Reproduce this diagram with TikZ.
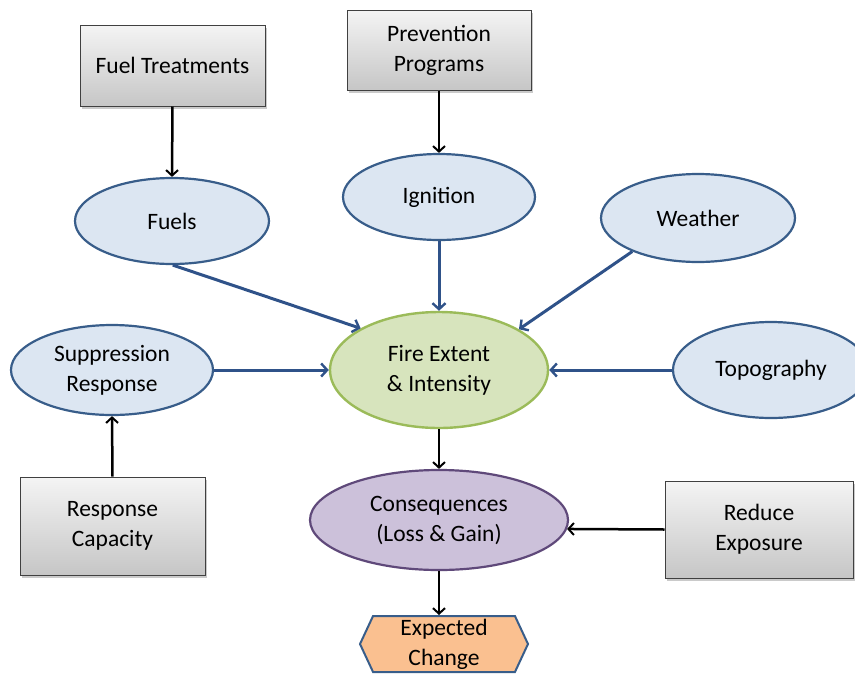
\documentclass[tikz,border=0pt]{standalone}
\usepackage{fontspec}
\setmainfont{Carlito}
\usetikzlibrary{shapes.geometric,shapes.symbols,arrows.meta,shadows}
\definecolor{ellfill}{HTML}{DCE6F2}
\definecolor{elldraw}{HTML}{385D8A}
\definecolor{arrblue}{HTML}{2F5289}
\definecolor{firefill}{HTML}{D7E4BD}
\definecolor{firedraw}{HTML}{9BBB59}
\definecolor{consfill}{HTML}{CCC1DA}
\definecolor{consdraw}{HTML}{5F497A}
\definecolor{hexfill}{HTML}{FAC090}
\definecolor{boxtop}{HTML}{F4F4F4}
\definecolor{boxbot}{HTML}{C6C6C6}
\definecolor{boxdraw}{HTML}{404040}
\tikzset{
  lbl/.style={font=\fontsize{23.5}{30}\selectfont, align=center, text=black},
  gbox/.style={lbl, rectangle, draw=boxdraw, line width=1pt, top color=boxtop, bottom color=boxbot,
    drop shadow={shadow xshift=2pt, shadow yshift=-2.5pt, opacity=0.35, fill=black!60}},
  bell/.style={lbl, ellipse, inner sep=0pt, draw=elldraw, line width=2.2pt, fill=ellfill},
  blk/.style={-{Straight Barb[length=5.5pt,width=12pt,line width=2pt]}, line width=2.5pt, black},
  blu/.style={-{Straight Barb[length=6pt,width=13pt,line width=2.4pt]}, line width=3pt, arrblue},
}
\begin{document}
\begin{tikzpicture}[x=1pt,y=-1pt]
\useasboundingbox (0,0) rectangle (855,673);
\clip (0,0) rectangle (855,673);
\node[gbox, minimum width=185pt, minimum height=81pt] (ft) at (172.5,65.5) {Fuel Treatments};
\node[gbox, minimum width=184pt, minimum height=80pt] (pp) at (439,50) {Prevention\\Programs};
\node[bell, minimum width=194pt, minimum height=86pt] (fuels) at (172,221) {Fuels};
\node[bell, minimum width=192pt, minimum height=86pt] (ign) at (439,197) {Ignition};
\node[bell, minimum width=194pt, minimum height=88pt] (wea) at (698,218) {Weather};
\node[bell, minimum width=202pt, minimum height=90pt] (supp) at (112,370) {Suppression\\Response};
\node[lbl, ellipse, inner sep=0pt, draw=firedraw, line width=2.4pt, fill=firefill,
  minimum width=218pt, minimum height=116pt] (fire) at (439,370) {Fire Extent\\\& Intensity};
\node[bell, minimum width=196pt, minimum height=96pt] (topo) at (771,370) {Topography};
\node[lbl, ellipse, inner sep=0pt, draw=consdraw, line width=2.2pt, fill=consfill,
  minimum width=258pt, minimum height=100pt] (cons) at (439,520) {Consequences\\(Loss \& Gain)};
\node[gbox, minimum width=185pt, minimum height=98pt] (rc) at (112.5,526) {Response\\Capacity};
\node[gbox, minimum width=188pt, minimum height=97pt] (re) at (759,529.5) {Reduce\\Exposure};
\node[lbl, signal, signal to=west and east, signal pointer angle=130, draw=elldraw, line width=2pt,
  fill=hexfill, inner sep=0pt, minimum width=168pt, minimum height=56pt] (hex) at (444,644) {Expected\\Change};

\draw[blk] (ft.south) -- (fuels.north);
\draw[blk] (pp.south) -- (ign.north);
\draw[blk] (fire.south) -- (cons.north);
\draw[blk] (cons.south) -- (cons.south |- hex.north);
\draw[blk] (rc.north) -- (supp.south);
\draw[blk] (re.west) -- (cons.-4.5);

\draw[blu] (fuels.-89) -- (fire.152);
\draw[blu] (ign.south) -- (fire.north);
\draw[blu] (wea.207) -- (fire.27);
\draw[blu] (supp.east) -- (fire.west);
\draw[blu] (topo.west) -- (fire.east);
\end{tikzpicture}
\end{document}
